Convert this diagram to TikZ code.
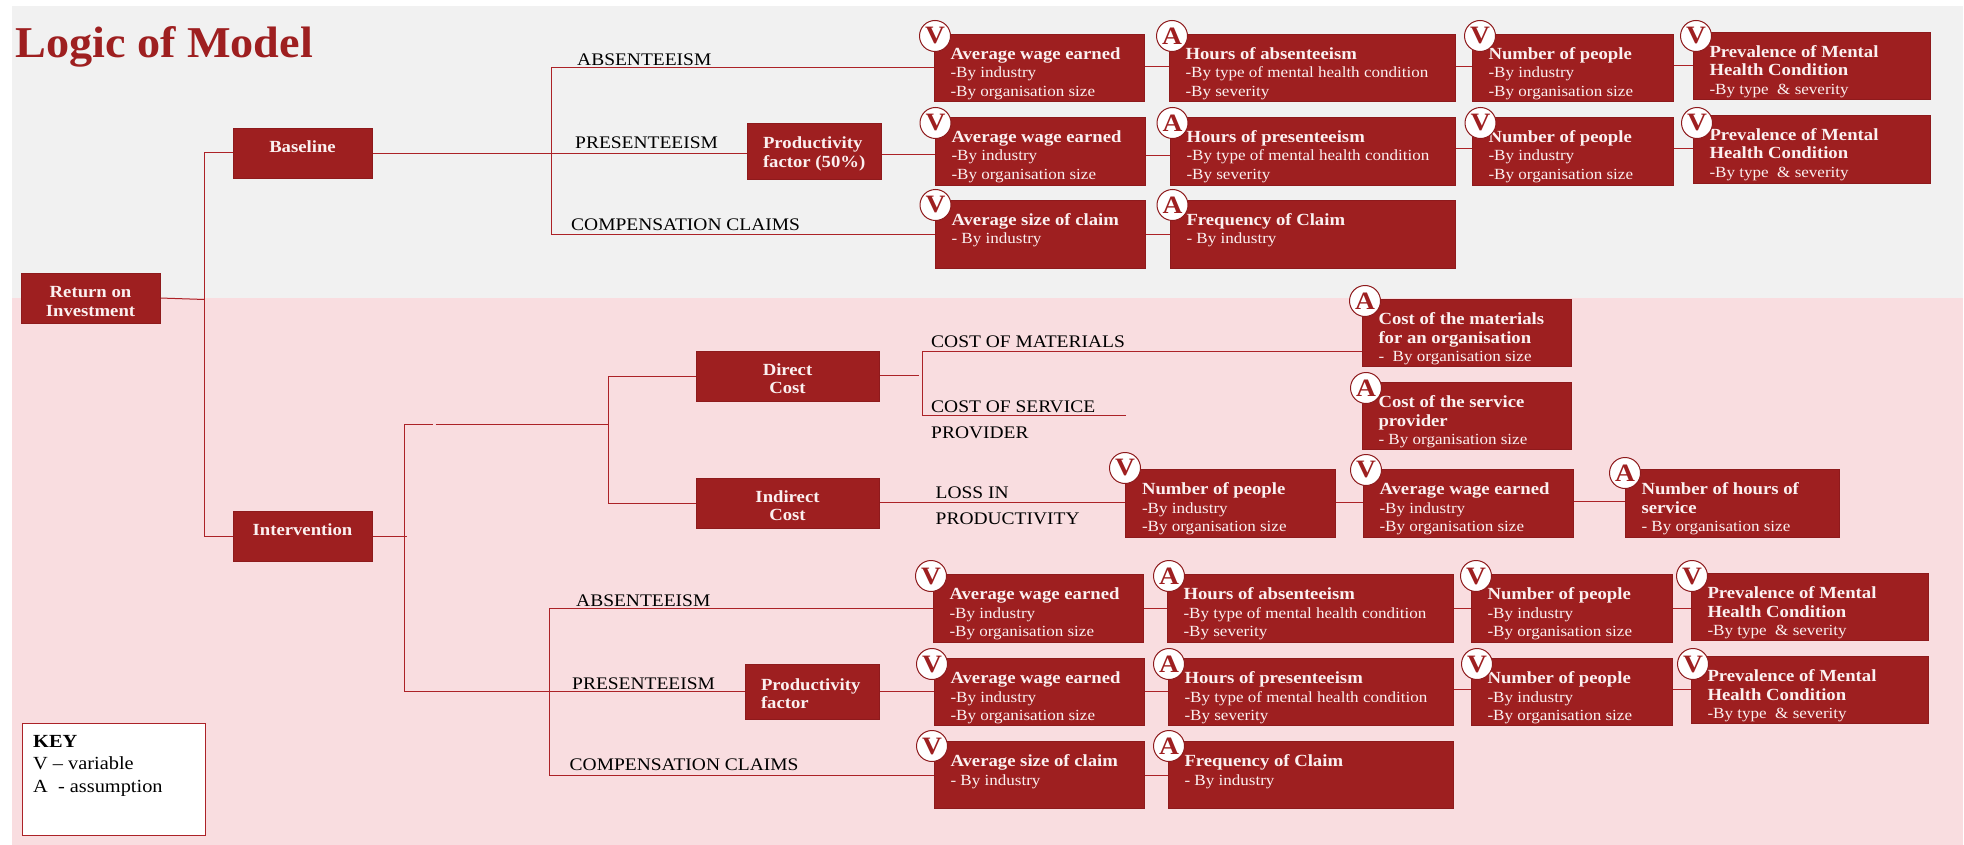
\documentclass[tikz,border=0pt]{standalone}
\usepackage{fontspec}
\setmainfont[FakeStretch=1.1]{Liberation Serif}
\newfontfamily\ttlfont[FakeStretch=1.05]{Liberation Serif}
\definecolor{boxred}{HTML}{9E1F20}
\definecolor{boxedge}{HTML}{8E1A1C}
\definecolor{linered}{HTML}{AC2227}
\definecolor{pinkbg}{HTML}{F9DDE0}
\definecolor{greybg}{HTML}{F1F1F1}
\definecolor{boxtext}{HTML}{FBF0F0}
\pgfdeclarelayer{back}
\pgfdeclarelayer{wires}
\pgfsetlayers{back,wires,main}
\tikzset{
  redbox/.style={draw=boxedge,line width=0.8pt,fill=boxred,text=boxtext,inner sep=0pt,outer sep=0pt,anchor=north west},
  badge/.style={circle,draw=boxedge,line width=1pt,fill=white,text=boxred,inner sep=0pt,minimum size=31pt,font=\fontsize{25}{25}\selectfont\bfseries},
  lab/.style={anchor=base west,inner sep=0pt,text=black,font=\fontsize{17.7}{22}\selectfont},
  wire/.style={draw=linered,line width=1pt}
}
\newcommand{\hd}[1]{\textbf{\fontsize{17}{18.5}\selectfont #1}}
% name, left, top, right, bottom, first baseline offset, alignment, text
\newcommand{\bx}[8]{%
  \pgfmathsetmacro\bw{#4-#2}\pgfmathsetmacro\bh{#5-#3}\pgfmathsetmacro\bd{#6-14}%
  \node[redbox] (#1) at (#2,#3) {\parbox[c][\bh pt][t]{\bw pt}{\fontsize{15.5}{18.5}\selectfont\baselineskip=18.5pt #7\vspace*{\bd pt}\rule{0pt}{14pt}#8}};%
}
\newcommand{\la}{\raggedright\leftskip=16.5pt }
\newcommand{\hl}[3]{\begin{pgfonlayer}{wires}\draw[wire] (#1.east |- 0,#3) -- (#2.west |- 0,#3);\end{pgfonlayer}}
\newcommand{\std}[3]{\hd{#1}\\#2\\#3}
\begin{document}
\begin{tikzpicture}[x=1pt,y=-1pt]
\useasboundingbox (0,0) rectangle (1964,845);
\begin{pgfonlayer}{back}
\fill[greybg] (12,6) rectangle (1963,298.5);
\fill[pinkbg] (12,298) rectangle (1963,845);
\end{pgfonlayer}

\node[anchor=base west,inner sep=0pt,text=boxred,font=\ttlfont\fontsize{44}{48}\selectfont\bfseries] (title) at (15,58) {Logic of Model};

% tree roots
\bx{root}{21}{273}{160}{323}{24.5}{\centering}{\hd{Return on}\\\hd{Investment}}
\bx{base}{233}{128}{372}{178}{24.5}{\centering}{\hd{Baseline}}
\bx{inter}{233}{511}{372}{561}{24.5}{\centering}{\hd{Intervention}}
\bx{direct}{696}{351}{879}{401}{24}{\centering}{\hd{Direct}\\\hd{Cost}}
\bx{indir}{696}{478}{879}{528}{24}{\centering}{\hd{Indirect}\\\hd{Cost}}
\bx{pf}{747}{123}{881}{179}{26}{\raggedright\leftskip=16pt }{\hd{Productivity}\\\hd{factor (50\%)}}
\bx{pfb}{745}{664}{879}{719}{26}{\raggedright\leftskip=16pt }{\hd{Productivity}\\\hd{factor}}

% baseline rows
\bx{aweA}{934}{34}{1144}{101}{25.5}{\la}{\std{Average wage earned}{-By industry}{-By organisation size}}
\bx{hab}{1169}{34}{1455}{101}{25.5}{\la}{\std{Hours of absenteeism}{-By type of mental health condition}{-By severity}}
\bx{nopA}{1472}{34}{1673}{101}{25.5}{\la}{\std{Number of people}{-By industry}{-By organisation size}}
\bx{prvA}{1693}{32}{1930}{99}{25.5}{\la}{\std{Prevalence of Mental}{\hd{Health Condition}}{-By type\ \ \& severity}}
\bx{aweB}{935}{117}{1145}{185}{25.5}{\la}{\std{Average wage earned}{-By industry}{-By organisation size}}
\bx{hpr}{1170}{117}{1455}{185}{25.5}{\la}{\std{Hours of presenteeism}{-By type of mental health condition}{-By severity}}
\bx{nopB}{1472}{117}{1673}{185}{25.5}{\la}{\std{Number of people}{-By industry}{-By organisation size}}
\bx{prvB}{1693}{115}{1930}{183}{25.5}{\la}{\std{Prevalence of Mental}{\hd{Health Condition}}{-By type\ \ \& severity}}
\bx{ascA}{935}{200}{1145}{268}{25.5}{\la}{\hd{Average size of claim}\\- By industry}
\bx{frqA}{1170}{200}{1455}{268}{25.5}{\la}{\hd{Frequency of Claim}\\- By industry}

% cost rows
\bx{cmat}{1362}{299}{1571}{366}{25.5}{\la}{\std{Cost of the materials}{\hd{for an organisation}}{-\ \ By organisation size}}
\bx{csrv}{1362}{382}{1571}{449}{25.5}{\la}{\std{Cost of the service}{\hd{provider}}{- By organisation size}}
\bx{nopM}{1125.5}{469}{1335}{537}{25.5}{\la}{\std{Number of people}{-By industry}{-By organisation size}}
\bx{aweM}{1363}{469}{1573}{537}{25.5}{\la}{\std{Average wage earned}{-By industry}{-By organisation size}}
\bx{nhs}{1625}{469}{1839}{537}{25.5}{\la}{\std{Number of hours of}{\hd{service}}{- By organisation size}}

% intervention rows
\bx{aweC}{933}{574}{1143}{642}{25.5}{\la}{\std{Average wage earned}{-By industry}{-By organisation size}}
\bx{habC}{1167}{574}{1453}{642}{25.5}{\la}{\std{Hours of absenteeism}{-By type of mental health condition}{-By severity}}
\bx{nopC}{1471}{574}{1672}{642}{25.5}{\la}{\std{Number of people}{-By industry}{-By organisation size}}
\bx{prvC}{1691}{573}{1928}{640}{25.5}{\la}{\std{Prevalence of Mental}{\hd{Health Condition}}{-By type\ \ \& severity}}
\bx{aweD}{934}{658}{1144}{725}{25.5}{\la}{\std{Average wage earned}{-By industry}{-By organisation size}}
\bx{hprD}{1168}{658}{1453}{725}{25.5}{\la}{\std{Hours of presenteeism}{-By type of mental health condition}{-By severity}}
\bx{nopD}{1471}{658}{1672}{725}{25.5}{\la}{\std{Number of people}{-By industry}{-By organisation size}}
\bx{prvD}{1691}{656}{1928}{723}{25.5}{\la}{\std{Prevalence of Mental}{\hd{Health Condition}}{-By type\ \ \& severity}}
\bx{ascB}{934}{741}{1144}{808}{25.5}{\la}{\hd{Average size of claim}\\- By industry}
\bx{frqB}{1168}{741}{1453}{808}{25.5}{\la}{\hd{Frequency of Claim}\\- By industry}

% badges
\node[badge] (b1) at (935,36) {V};
\node[badge] (b2) at (1172,36) {A};
\node[badge] (b3) at (1480,36) {V};
\node[badge] (b4) at (1696,36) {V};
\node[badge] (b5) at (935.5,123) {V};
\node[badge] (b6) at (1172.5,123) {A};
\node[badge] (b7) at (1480.5,123) {V};
\node[badge] (b8) at (1697,123) {V};
\node[badge] (b9) at (935.5,205) {V};
\node[badge] (b10) at (1172.5,205) {A};
\node[badge] (b11) at (1365,301) {A};
\node[badge] (b12) at (1366,388) {A};
\node[badge] (b13) at (1125,468) {V};
\node[badge] (b14) at (1366,470) {V};
\node[badge] (b15) at (1625,473) {A};
\node[badge] (b16) at (931,576) {V};
\node[badge] (b17) at (1169,576) {A};
\node[badge] (b18) at (1476,576) {V};
\node[badge] (b19) at (1692,576) {V};
\node[badge] (b20) at (932,664) {V};
\node[badge] (b21) at (1169,664) {A};
\node[badge] (b22) at (1477,664) {V};
\node[badge] (b23) at (1693,664) {V};
\node[badge] (b24) at (932,746) {V};
\node[badge] (b25) at (1169,746) {A};

% labels
\node[lab] (l1) at (577,66) {ABSENTEEISM};
\node[lab] (l2) at (575,149) {PRESENTEEISM};
\node[lab] (l3) at (571,230) {COMPENSATION CLAIMS};
\node[lab] (l4) at (931,347) {COST OF MATERIALS};
\node[lab] (l5) at (931,412) {COST OF SERVICE};
\node[lab] (l6) at (931,438) {PROVIDER};
\node[lab] (l7) at (935.5,498) {LOSS IN};
\node[lab] (l8) at (935.5,524) {PRODUCTIVITY};
\node[lab] (l9) at (576,606) {ABSENTEEISM};
\node[lab] (l10) at (572,689) {PRESENTEEISM};
\node[lab] (l11) at (569.5,770) {COMPENSATION CLAIMS};

% key
\node[draw=linered,line width=1pt,fill=white,anchor=north west,inner sep=0pt,minimum width=182.5pt,minimum height=112pt] (keybox) at (22,723) {};
\node[anchor=base west,inner sep=0pt,font=\fontsize{18.5}{22}\selectfont\bfseries] (k1) at (33,747) {KEY};
\node[anchor=base west,inner sep=0pt,font=\fontsize{18.5}{22}\selectfont] (k2) at (33,769) {V – variable};
\node[anchor=base west,inner sep=0pt,font=\fontsize{18.5}{22}\selectfont] (k3) at (33,792) {A\ \ - assumption};

% junctions
\coordinate (j1) at (204.5,299.5);
\coordinate (j3) at (404,424);
\coordinate (gapa) at (433,424);
\coordinate (gapb) at (435.5,424.5);
\coordinate (j4) at (608,424.5);
\coordinate (stub) at (919,375);
\coordinate (j6) at (922,351.5);
\coordinate (j7) at (922,415);
\coordinate (srvend) at (1125.5,415);

\begin{pgfonlayer}{wires}
\draw[wire] (root.east) -- (j1);
\draw[wire] (base.west |- 0,153) -| (204.5,536) -- (inter.west |- 0,536);
\draw[wire] (base.east |- 0,154) -- (pf.west |- 0,154);
\draw[wire] (inter.east |- 0,536) -- (407,536);
\draw[wire] (aweA.west |- 0,68) -| (551,234) -- (ascA.west |- 0,234);
\draw[wire] (gapa) -- (j3) -- (404,691) -- (pfb.west |- 0,691);
\draw[wire] (gapb) -- (j4);
\draw[wire] (direct.west |- 0,376) -| (608,503) -- (indir.west |- 0,503);
\draw[wire] (direct.east |- stub) -- (stub);
\draw[wire] (cmat.west |- j6) -- (j6) -- (j7) -- (srvend);
\draw[wire] (indir.east |- 0,502.5) -- (nopM.west |- 0,502.5);
\draw[wire] (aweC.west |- 0,608) -| (549,775) -- (ascB.west |- 0,775);
\end{pgfonlayer}
\hl{pf}{aweB}{155}
\hl{pfb}{aweD}{691}
\hl{aweA}{hab}{67}
\hl{hab}{nopA}{67}
\hl{nopA}{prvA}{66}
\hl{aweB}{hpr}{156}
\hl{hpr}{nopB}{149}
\hl{nopB}{prvB}{149}
\hl{ascA}{frqA}{234}
\hl{nopM}{aweM}{502}
\hl{aweM}{nhs}{501}
\hl{aweC}{habC}{608}
\hl{habC}{nopC}{608}
\hl{nopC}{prvC}{608}
\hl{aweD}{hprD}{691}
\hl{hprD}{nopD}{689}
\hl{nopD}{prvD}{689}
\hl{ascB}{frqB}{775}
\end{tikzpicture}
\end{document}
